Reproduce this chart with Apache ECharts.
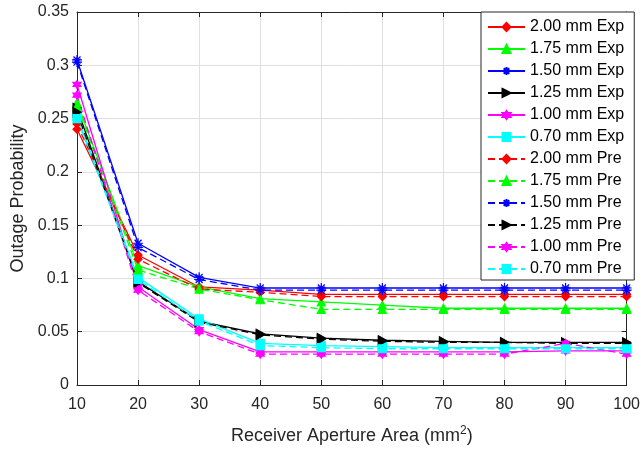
<!DOCTYPE html>
<html>
<head>
<meta charset="utf-8">
<script src="https://cdn.jsdelivr.net/npm/echarts@6/dist/echarts.min.js"></script>
<style>
  html, body { margin: 0; padding: 0; background: #fff; }
  #chart { width: 643px; height: 450px; }
</style>
</head>
<body>
<div id="chart"></div>
<script>
// Receiver aperture areas (mm^2)
const apertureArea = [10, 20, 30, 40, 50, 60, 70, 80, 90, 100];

// Outage probability, measured (Exp) and predicted (Pre), per lens diameter
const exp200 = [0.240, 0.122, 0.092, 0.089, 0.085, 0.085, 0.085, 0.085, 0.085, 0.085];
const exp175 = [0.265, 0.112, 0.092, 0.081, 0.078, 0.075, 0.072, 0.072, 0.072, 0.072];
const exp150 = [0.305, 0.133, 0.101, 0.091, 0.091, 0.091, 0.091, 0.091, 0.091, 0.091];
const exp125 = [0.260, 0.097, 0.060, 0.048, 0.044, 0.042, 0.041, 0.040, 0.040, 0.040];
const exp100 = [0.282, 0.092, 0.052, 0.031, 0.031, 0.031, 0.031, 0.031, 0.032, 0.032];
const exp070 = [0.252, 0.101, 0.062, 0.039, 0.037, 0.036, 0.035, 0.035, 0.035, 0.035];

const pre200 = [0.245, 0.118, 0.090, 0.087, 0.083, 0.083, 0.083, 0.083, 0.083, 0.083];
const pre175 = [0.262, 0.108, 0.090, 0.080, 0.071, 0.071, 0.071, 0.071, 0.071, 0.071];
const pre150 = [0.303, 0.129, 0.099, 0.089, 0.089, 0.089, 0.089, 0.089, 0.089, 0.089];
const pre125 = [0.256, 0.096, 0.059, 0.047, 0.043, 0.041, 0.040, 0.040, 0.039, 0.039];
const pre100 = [0.272, 0.089, 0.050, 0.029, 0.029, 0.029, 0.029, 0.029, 0.039, 0.029];
const pre070 = [0.250, 0.099, 0.060, 0.037, 0.035, 0.034, 0.034, 0.034, 0.034, 0.034];

const yTicks = { min: 0, max: 0.35, interval: 0.05 };
const xTicks = { min: 10, max: 100, interval: 10 };

// Marker shapes
const SYM_DIAMOND = 'diamond';
const SYM_TRIANGLE = 'triangle';
const SYM_ASTERISK = 'path://M0,-1L0,1M-1,0L1,0M-0.7,-0.7L0.7,0.7M-0.7,0.7L0.7,-0.7';
const SYM_RIGHT_TRI = 'path://M0,0L1,0.5L0,1Z';
const SYM_HEXAGRAM = 'path://M0,-1L0.289,-0.5L0.866,-0.5L0.577,0L0.866,0.5L0.289,0.5L0,1L-0.289,0.5L-0.866,0.5L-0.577,0L-0.866,-0.5L-0.289,-0.5Z';
const SYM_SQUARE = 'rect';

const curves = [
  { name: '2.00 mm Exp', data: exp200, color: '#ff0000', symbol: SYM_DIAMOND, dashed: false },
  { name: '1.75 mm Exp', data: exp175, color: '#00ff00', symbol: SYM_TRIANGLE, dashed: false },
  { name: '1.50 mm Exp', data: exp150, color: '#0000ff', symbol: SYM_ASTERISK, dashed: false },
  { name: '1.25 mm Exp', data: exp125, color: '#000000', symbol: SYM_RIGHT_TRI, dashed: false },
  { name: '1.00 mm Exp', data: exp100, color: '#ff00ff', symbol: SYM_HEXAGRAM, dashed: false },
  { name: '0.70 mm Exp', data: exp070, color: '#00ffff', symbol: SYM_SQUARE, dashed: false },
  { name: '2.00 mm Pre', data: pre200, color: '#ff0000', symbol: SYM_DIAMOND, dashed: true },
  { name: '1.75 mm Pre', data: pre175, color: '#00ff00', symbol: SYM_TRIANGLE, dashed: true },
  { name: '1.50 mm Pre', data: pre150, color: '#0000ff', symbol: SYM_ASTERISK, dashed: true },
  { name: '1.25 mm Pre', data: pre125, color: '#000000', symbol: SYM_RIGHT_TRI, dashed: true },
  { name: '1.00 mm Pre', data: pre100, color: '#ff00ff', symbol: SYM_HEXAGRAM, dashed: true },
  { name: '0.70 mm Pre', data: pre070, color: '#00ffff', symbol: SYM_SQUARE, dashed: true }
];

const FONT = "'Liberation Sans', Arial, Helvetica, sans-serif";
const AXIS_COLOR = '#262626';

const series = curves.map(c => ({
  name: c.name,
  type: 'line',
  xAxisIndex: 0,
  yAxisIndex: 0,
  data: apertureArea.map((x, i) => [x, c.data[i]]),
  symbol: c.symbol,
  symbolSize: c.symbol === SYM_ASTERISK ? 10 : (c.symbol === SYM_RIGHT_TRI ? [8, 9] : 8),
  showAllSymbol: true,
  lineStyle: { color: c.color, width: 1.3, type: c.dashed ? [7, 4] : 'solid' },
  itemStyle: { color: c.color, borderColor: c.color, borderWidth: 1.2 },
  emphasis: { disabled: true },
  animation: false
}));

const chart = echarts.init(document.getElementById('chart'), null, { renderer: 'canvas' });
chart.setOption({
  backgroundColor: '#ffffff',
  animation: false,
  grid: { left: 77, top: 12, right: 16, bottom: 64, containLabel: false },
  legend: {
    orient: 'vertical',
    left: 481,
    top: 12,
    width: 155,
    backgroundColor: '#ffffff',
    borderColor: AXIS_COLOR,
    borderWidth: 1,
    borderRadius: 0,
    padding: [7, 10, 3, 6],
    itemGap: 6,
    itemWidth: 37,
    itemHeight: 10,
    textStyle: { fontFamily: FONT, fontSize: 16, color: '#000000' },
    data: curves.map(c => c.name)
  },
  xAxis: [{
    type: 'value',
    min: xTicks.min, max: xTicks.max, interval: xTicks.interval,
    name: '{t|Receiver Aperture Area (mm}{s|2}{t|)}',
    nameLocation: 'middle',
    nameGap: 40,
    nameTextStyle: {
      rich: {
        t: { fontFamily: FONT, fontSize: 18, color: AXIS_COLOR, verticalAlign: 'bottom' },
        s: { fontFamily: FONT, fontSize: 12, color: AXIS_COLOR, verticalAlign: 'top', padding: [0, 0, 8, 0] }
      }
    },
    axisLine: { show: true, lineStyle: { color: AXIS_COLOR, width: 1 } },
    axisTick: { show: true, inside: true, length: 5, lineStyle: { color: AXIS_COLOR } },
    axisLabel: { fontFamily: FONT, fontSize: 16, color: AXIS_COLOR, margin: 12 },
    splitLine: { show: true, lineStyle: { color: '#dfdfdf', width: 1 } }
  }, {
    type: 'value', position: 'top',
    min: xTicks.min, max: xTicks.max, interval: xTicks.interval,
    axisLine: { show: true, onZero: false, lineStyle: { color: AXIS_COLOR, width: 1 } },
    axisTick: { show: true, inside: true, length: 5, lineStyle: { color: AXIS_COLOR } },
    axisLabel: { show: false },
    splitLine: { show: false }
  }],
  yAxis: [{
    type: 'value',
    min: yTicks.min, max: yTicks.max, interval: yTicks.interval,
    name: 'Outage Probability',
    nameLocation: 'middle',
    nameGap: 47,
    nameTextStyle: { fontFamily: FONT, fontSize: 18, color: AXIS_COLOR },
    axisLine: { show: true, lineStyle: { color: AXIS_COLOR, width: 1 } },
    axisTick: { show: true, inside: true, length: 5, lineStyle: { color: AXIS_COLOR } },
    axisLabel: { fontFamily: FONT, fontSize: 16, color: AXIS_COLOR, margin: 8 },
    splitLine: { show: true, lineStyle: { color: '#dfdfdf', width: 1 } }
  }, {
    type: 'value', position: 'right',
    min: yTicks.min, max: yTicks.max, interval: yTicks.interval,
    axisLine: { show: true, onZero: false, lineStyle: { color: AXIS_COLOR, width: 1 } },
    axisTick: { show: true, inside: true, length: 5, lineStyle: { color: AXIS_COLOR } },
    axisLabel: { show: false },
    splitLine: { show: false }
  }],
  series: series
});
</script>
</body>
</html>
